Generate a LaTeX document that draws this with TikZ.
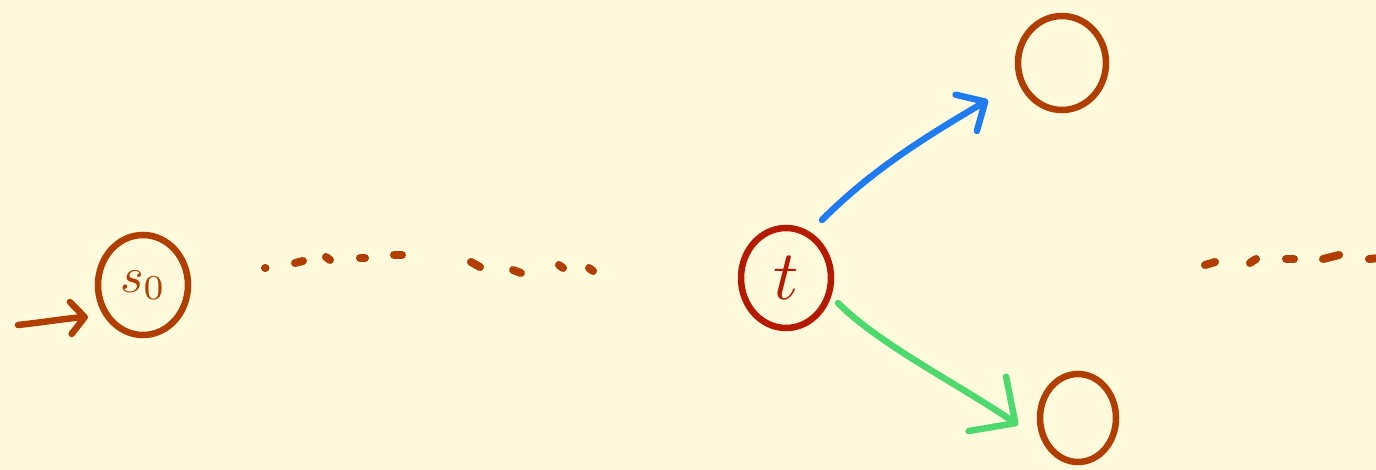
\documentclass[tikz,border=0pt]{standalone}
\usetikzlibrary{shapes.geometric,arrows.meta}
\definecolor{bg}{RGB}{255,250,220}
\definecolor{brn}{RGB}{176,62,0}
\definecolor{rd}{RGB}{180,26,0}
\definecolor{bl}{RGB}{30,123,240}
\definecolor{gr}{RGB}{78,217,110}
\tikzset{
  state/.style={ellipse,draw=brn,line width=6.5pt,inner sep=0pt,text=brn},
  conn/.style={line width=6.5pt,line cap=round},
  barb/.style 2 args={-{Straight Barb[length=#1,width=#2,line cap=round,line join=round]}},
  dot/.style={brn,line width=8pt,line cap=round}
}
\begin{document}
\begin{tikzpicture}[x=1pt,y=-1pt]
\fill[bg] (0,0) rectangle (1376,470);
\useasboundingbox (0,0) rectangle (1376,470);
\node[state,minimum width=90pt,minimum height=100pt] (s0) at (143,285) {\scalebox{5}{$s_0$}};
\node[state,draw=rd,text=rd,minimum width=90pt,minimum height=100pt] (t) at (786,278) {\scalebox{7}{$t$}};
\node[state,minimum width=88pt,minimum height=94pt] (top) at (1062,63) {};
\node[state,minimum width=76pt,minimum height=88pt] (bot) at (1078,418) {};
\coordinate (in) at (18,325);
\draw[conn,brn,barb={14pt}{32pt}] (in) .. controls (45,322) and (70,318) .. ([shift={(-55,32)}]s0.center);
\draw[conn,bl,barb={22pt}{42pt}] ([shift={(36,-58)}]t.center) .. controls (870,172) and (920,140) .. ([shift={(-74,37)}]top.center);
\draw[conn,gr,barb={34pt}{66pt}] ([shift={(52,25)}]t.center) .. controls (880,345) and (960,385) .. ([shift={(-60,7)}]bot.center);
% dotted trails
\draw[dot] (265,268) -- (265.5,268);
\draw[dot] (295,263) -- (303,261);
\draw[dot] (326,257) -- (330,260);
\draw[dot] (360,258) -- (365,258);
\draw[dot] (394,255) -- (402,255);
\draw[dot] (471,262) -- (480,267);
\draw[dot] (513,270) -- (521,273);
\draw[dot] (559,265) -- (563,268);
\draw[dot] (589,268) -- (593,271);
\draw[dot] (1205,265) -- (1215,262);
\draw[dot] (1250,263) -- (1256,259);
\draw[dot] (1286,259) -- (1294,259);
\draw[dot] (1323,259) -- (1339,255);
\draw[dot] (1369,259) -- (1380,258);
\end{tikzpicture}
\end{document}
